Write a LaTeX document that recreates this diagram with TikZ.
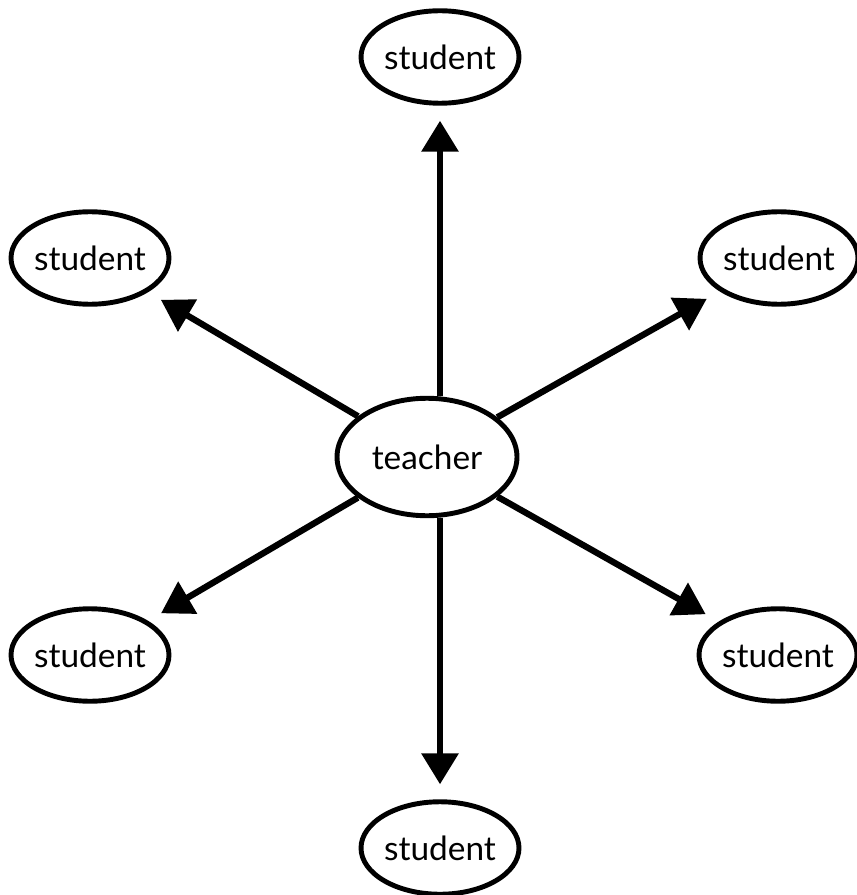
\documentclass[tikz,border=0pt]{standalone}
\usepackage{fontspec}
\setmainfont{Lato}
\usetikzlibrary{shapes.geometric, arrows.meta}
\tikzset{
	defaultnode/.style={
			ellipse,
			draw=black,
			line width=2.8pt,
			fill=white,
			inner sep=0pt,
			font=\fontsize{19}{22}\selectfont
		},
	studentnode/.style={
			defaultnode,
			minimum width=3.05cm,
			minimum height=1.85cm
		},
	teachernode/.style={
			defaultnode,
			minimum width=3.6cm,
			minimum height=2.35cm
		},
	linkarrow/.style={
			line width=3.6pt,
			-{Triangle[length=0.62cm, width=0.72cm]},
			shorten >=0.3cm
		}
}

\begin{document}
\begin{tikzpicture}[x=0.02cm, y=-0.02cm]
\useasboundingbox (0,0) rectangle (857,895);

\node[teachernode] (n1) at (427,457) {teacher};
\node[studentnode] (n2) at (440,57) {student};
\node[studentnode] (n3) at (90,258) {student};
\node[studentnode] (n4) at (779,258) {student};
\node[studentnode] (n5) at (90,655) {student};
\node[studentnode] (n6) at (778,655) {student};
\node[studentnode] (n7) at (440,848) {student};

\draw[linkarrow] (n1.north -| n2) -- (n2);
\draw[linkarrow] (n1) -- (n3);
\draw[linkarrow] (n1) -- (n4);
\draw[linkarrow] (n1) -- (n5);
\draw[linkarrow] (n1) -- (n6);
\draw[linkarrow] (n1.south -| n7) -- (n7);

\end{tikzpicture}
\end{document}
